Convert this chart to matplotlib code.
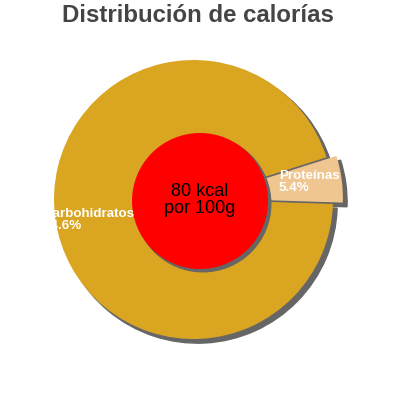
import matplotlib.pyplot as plt
import matplotlib.patches as mpatches

plt.rcParams['font.family'] = ['Liberation Sans', 'DejaVu Sans']

# datos
categorias = ['Carbohidratos', 'Proteínas']
porcentajes = [94.6, 5.4]
colores = ['#DAA520', '#F0C690']
explode = [0, 10]
texto_centro = '80 kcal\npor 100g'
titulo = 'Distribución de calorías'

fig = plt.figure(figsize=(4, 4), dpi=100)
ax = fig.add_axes([0, 0, 1, 1])

wedges, _ = ax.pie(porcentajes, colors=colores, explode=explode, radius=139.5,
                   center=(193.5, 200.5), startangle=17.6, counterclock=True,
                   frame=True)
ax.set_xlim(0, 400)
ax.set_ylim(0, 400)
ax.set_aspect('equal')
ax.axis('off')

for w in wedges:
    ax.add_patch(mpatches.Shadow(w, 3, -3, facecolor='#666666', edgecolor='#666666', alpha=1))

# circulo central
circ = mpatches.Circle((200, 199), 68, facecolor='#FF0000', edgecolor='none', zorder=3)
ax.add_patch(circ)
ax.add_patch(mpatches.Shadow(circ, 2, -2, facecolor='#666666', edgecolor='#666666', alpha=1))
ax.text(200, 200, texto_centro, ha='center', va='center', fontsize=13, color='black',
        linespacing=1.0, zorder=4)

# etiquetas
ax.text(279, 218, f'{categorias[1]}\n{porcentajes[1]}%', ha='left', va='center',
        fontsize=9.6, fontweight='bold', color='white', linespacing=0.95, zorder=4)
ax.text(44, 180, f'{categorias[0]}\n{porcentajes[0]}%', ha='left', va='center',
        fontsize=9.6, fontweight='bold', color='white', linespacing=0.95, zorder=4)

fig.text(0.495, 0.962, titulo, ha='center', va='center', fontsize=17.3,
         fontweight='bold', color='#444444')

fig.savefig('out.png', dpi=100)
